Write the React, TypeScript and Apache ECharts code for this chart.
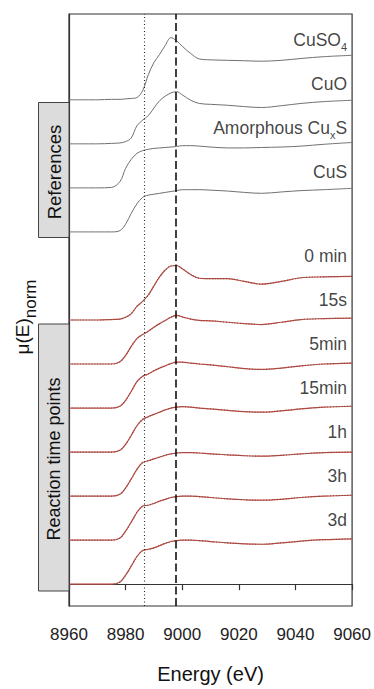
import React, { useEffect, useRef } from "react";
import * as echarts from "echarts";

// Energy grid (eV)
const ENERGY = [8960, 8970, 8975, 8978, 8980, 8982, 8984, 8986, 8988, 8990, 8992, 8994, 8996, 8998, 9000, 9003, 9006, 9010, 9016, 9022, 9028, 9035, 9042, 9050, 9060];

// Reference spectra (normalized mu)
const CUSO4 = [0, 0, 0.01, 0.01, 0.02, 0.03, 0.05, 0.2, 0.55, 0.82, 1.0, 1.2, 1.37, 1.3, 1.18, 1.02, 0.9, 0.88, 0.87, 0.86, 0.85, 0.87, 0.91, 0.95, 0.98];
const CUO = [0, 0, 0.01, 0.02, 0.05, 0.13, 0.4, 0.52, 0.62, 0.79, 0.95, 1.05, 1.12, 1.15, 1.08, 0.96, 0.89, 0.87, 0.85, 0.82, 0.8, 0.84, 0.89, 0.93, 0.96];
const AMORPH_CUXS = [0, 0, 0.01, 0.14, 0.43, 0.63, 0.76, 0.82, 0.85, 0.87, 0.88, 0.89, 0.9, 0.91, 0.93, 0.93, 0.92, 0.9, 0.88, 0.88, 0.89, 0.9, 0.92, 0.96, 1.0];
const CUS = [0, 0, 0, 0.03, 0.17, 0.41, 0.62, 0.76, 0.81, 0.83, 0.85, 0.87, 0.89, 0.91, 0.93, 0.93, 0.93, 0.92, 0.9, 0.87, 0.85, 0.88, 0.91, 0.93, 0.96];

// Reaction time points
const T_0MIN = [0, 0, 0.01, 0.02, 0.06, 0.14, 0.3, 0.41, 0.55, 0.75, 0.95, 1.1, 1.19, 1.2, 1.13, 1.0, 0.92, 0.91, 0.91, 0.85, 0.79, 0.85, 0.93, 0.95, 0.96];
const T_15S = [0, 0, 0, 0.05, 0.19, 0.39, 0.56, 0.65, 0.72, 0.81, 0.89, 0.96, 1.03, 1.07, 1.04, 0.99, 0.96, 0.95, 0.92, 0.89, 0.87, 0.92, 0.98, 1.0, 1.01];
const T_5MIN = [0, 0, 0, 0.04, 0.17, 0.37, 0.58, 0.7, 0.75, 0.82, 0.88, 0.93, 0.98, 1.01, 1.01, 0.99, 0.97, 0.95, 0.91, 0.87, 0.85, 0.88, 0.93, 0.97, 0.99];
const T_15MIN = [0, 0, 0, 0.04, 0.17, 0.37, 0.58, 0.72, 0.78, 0.83, 0.88, 0.93, 0.97, 0.99, 1.0, 0.99, 0.97, 0.95, 0.92, 0.89, 0.88, 0.91, 0.95, 0.99, 1.01];
const T_1H = [0, 0, 0, 0.04, 0.18, 0.38, 0.59, 0.74, 0.78, 0.82, 0.86, 0.9, 0.93, 0.95, 0.96, 0.96, 0.95, 0.93, 0.91, 0.89, 0.88, 0.9, 0.93, 0.96, 0.97];
const T_3H = [0, 0, 0, 0.05, 0.2, 0.4, 0.61, 0.75, 0.77, 0.81, 0.86, 0.9, 0.94, 0.96, 0.97, 0.97, 0.96, 0.94, 0.91, 0.89, 0.88, 0.9, 0.94, 0.97, 0.99];
const T_3D = [0, 0, 0, 0.05, 0.2, 0.4, 0.61, 0.74, 0.77, 0.8, 0.85, 0.9, 0.94, 0.96, 0.97, 0.97, 0.96, 0.94, 0.91, 0.89, 0.88, 0.91, 0.95, 0.98, 1.0];

const REFERENCES = [
  { name: "CuSO4", label: "{a|CuSO}{s|4}", values: CUSO4 },
  { name: "CuO", label: "{a|CuO}", values: CUO },
  { name: "Amorphous CuxS", label: "{a|Amorphous Cu}{s|x}{a|S}", values: AMORPH_CUXS },
  { name: "CuS", label: "{a|CuS}", values: CUS },
];
const TIME_POINTS = [
  { name: "0 min", values: T_0MIN },
  { name: "15s", values: T_15S },
  { name: "5min", values: T_5MIN },
  { name: "15min", values: T_15MIN },
  { name: "1h", values: T_1H },
  { name: "3h", values: T_3H },
  { name: "3d", values: T_3D },
];

const X_TICKS = [8960, 8980, 9000, 9020, 9040, 9060];
const DOTTED_E = 8986.6;
const DASHED_E = 8997.6;

const STEP = 0.97;
const FONT = "'Liberation Sans', Arial, sans-serif";

export default function App() {
  const ref = useRef<HTMLDivElement>(null);
  useEffect(() => {
    if (!ref.current) return;
    const chart = echarts.init(ref.current, null, { renderer: "svg" });
    const series: any[] = [];
    const labelData: any[] = [];
    const xMax = X_TICKS[X_TICKS.length - 1];

    REFERENCES.forEach((r, i) => {
      const k = 11 - i;
      series.push({
        type: "line",
        name: r.name,
        data: ENERGY.map((e, j) => [e, r.values[j] + k * STEP]),
        smooth: 0.35,
        showSymbol: false,
        lineStyle: { color: "#707070", width: 1 },
        z: 2,
      });
      labelData.push({ name: r.label, value: [xMax, k * STEP + 1.32] });
    });

    TIME_POINTS.forEach((t, i) => {
      const k = 6 - i;
      const d = ENERGY.map((e, j) => [e, t.values[j] + k * STEP]);
      series.push({
        type: "line",
        name: t.name + " fit",
        data: d,
        smooth: 0.35,
        showSymbol: false,
        lineStyle: { color: "#d2453a", width: 1.2 },
        z: 2,
      });
      series.push({
        type: "line",
        name: t.name,
        data: d,
        smooth: 0.35,
        showSymbol: false,
        lineStyle: { color: "#5a5a5a", width: 1.1, type: [1, 1.8] },
        z: 3,
      });
      labelData.push({ name: "{a|" + t.name + "}", value: [xMax, k * STEP + 1.41] });
    });

    series.push({
      type: "scatter",
      name: "labels",
      data: labelData,
      symbolSize: 0,
      silent: true,
      label: {
        show: true,
        position: "left",
        distance: 5,
        formatter: (p: any) => p.name,
        rich: {
          a: { fontSize: 17.5, fontFamily: FONT, color: "#111", lineHeight: 20 },
          s: { fontSize: 11, fontFamily: FONT, color: "#111", verticalAlign: "bottom", lineHeight: 11, padding: [0, 0, -3, 0] },
        },
      },
      markLine: {
        silent: true,
        symbol: "none",
        label: { show: false },
        data: [
          { xAxis: DOTTED_E, lineStyle: { type: [1, 2.5], color: "#222", width: 1.1 } },
          { xAxis: DASHED_E, lineStyle: { type: [8, 3.5], color: "#111", width: 1.6 } },
        ],
      },
    });

    chart.setOption({
      animation: false,
      backgroundColor: "#fff",
      grid: { left: 69, right: 21, top: 14, bottom: 75, show: true, borderColor: "#333", borderWidth: 1.2, backgroundColor: "transparent" },
      xAxis: {
        type: "value",
        min: 8960,
        max: 9060,
        interval: 20,
        name: "Energy (eV)",
        nameLocation: "middle",
        nameGap: 58,
        nameTextStyle: { fontSize: 20, fontFamily: FONT, color: "#111" },
        axisLine: { show: true, lineStyle: { color: "#333", width: 1.2 } },
        axisTick: { show: true, inside: false, length: 6, lineStyle: { color: "#333", width: 1.2 } },
        axisLabel: { fontSize: 17, fontFamily: FONT, color: "#222", margin: 20, formatter: (v: number) => String(v) },
        splitLine: { show: false },
      },
      yAxis: {
        type: "value",
        min: -0.48,
        max: 12.56,
        axisLine: { show: true, lineStyle: { color: "#333", width: 1.2 } },
        axisTick: { show: false },
        axisLabel: { show: false },
        splitLine: { show: false },
      },
      graphic: [
        {
          type: "text", z: 101, x: 22, y: 317, rotation: Math.PI / 2,
          style: {
            text: "{m|\u03bc(E)}{s|norm}", align: "center", verticalAlign: "middle",
            rich: {
              m: { fontSize: 19, fontFamily: FONT, fill: "#111", lineHeight: 24 },
              s: { fontSize: 17, fontFamily: FONT, fill: "#111", verticalAlign: "bottom", lineHeight: 17, padding: [0, 0, -5, 0] },
            },
          },
        },
        { type: "rect", z: 100, shape: { x: 38.5, y: 102.5, width: 30.5, height: 135 }, style: { fill: "#dcdcdc", stroke: "#444", lineWidth: 1 } },
        { type: "text", z: 101, x: 54, y: 172, rotation: Math.PI / 2, style: { text: "References", fontSize: 18.5, fontFamily: FONT, fill: "#111", align: "center", verticalAlign: "middle" } },
        { type: "rect", z: 100, shape: { x: 38.5, y: 324, width: 30.5, height: 267 }, style: { fill: "#dcdcdc", stroke: "#444", lineWidth: 1 } },
        { type: "text", z: 101, x: 54, y: 459, rotation: Math.PI / 2, style: { text: "Reaction time points", fontSize: 18, fontFamily: FONT, fill: "#111", align: "center", verticalAlign: "middle" } },
      ],
      series,
    });
    return () => chart.dispose();
  }, []);
  return <div ref={ref} style={{ position: "absolute", left: 0, top: 0, width: 374, height: 689 }} />;
}
